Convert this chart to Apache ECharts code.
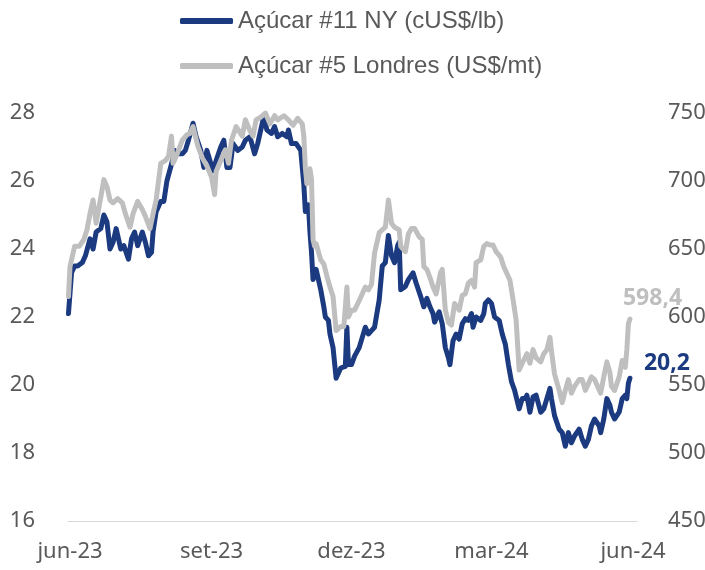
<!DOCTYPE html>
<html>
<head>
<meta charset="utf-8">
<script src="https://cdn.jsdelivr.net/npm/echarts@6/dist/echarts.min.js"></script>
<style>
  html, body { margin: 0; padding: 0; background: #fff; }
  #chart { width: 705px; height: 570px; }
</style>
</head>
<body>
<div id="chart"></div>
<script>
// dias contados a partir de 01/06/2023
const nyDays = [-1, 0, 1, 3, 5, 8, 10, 13, 15, 17, 20, 22, 24, 26, 28, 30, 33, 35, 38, 40, 42, 44, 47, 49, 51, 53, 54, 56, 59, 61, 63, 66, 68, 70, 73, 75, 77, 80, 82, 85, 87, 89, 91, 93, 95, 98, 100, 102, 104, 106, 109, 112, 114, 117, 120, 122, 126, 128, 131, 133, 135, 138, 141, 142, 144, 147, 150, 152, 153, 155, 156, 157, 158, 160, 163, 165, 166, 168, 169, 171, 173, 176, 179, 180, 181, 183, 185, 188, 190, 192, 194, 196, 198, 201, 203, 205, 207, 209, 211, 213, 214, 215, 218, 220, 223, 225, 228, 230, 232, 234, 236, 237, 240, 242, 244, 246, 247, 249, 251, 253, 255, 257, 259, 261, 262, 264, 267, 269, 270, 272, 274, 276, 279, 281, 283, 285, 287, 289, 292, 294, 296, 297, 299, 301, 303, 306, 308, 310, 312, 313, 315, 318, 320, 322, 324, 326, 328, 331, 333, 335, 337, 339, 341, 344, 345, 347, 349, 351, 352, 354, 357, 359, 361, 362, 363, 364];
const nyValues = [22.1, 22.7, 23.3, 23.5, 23.5, 23.6, 23.8, 24.3, 24.0, 24.5, 24.6, 25.0, 24.8, 24.0, 24.2, 24.6, 24.0, 24.1, 23.7, 24.3, 24.5, 24.1, 24.5, 24.2, 23.8, 23.9, 24.5, 25.1, 25.4, 25.4, 26.0, 26.5, 26.9, 26.8, 26.8, 26.9, 27.2, 27.7, 27.3, 26.9, 26.4, 26.9, 26.6, 26.3, 26.6, 27.0, 27.2, 26.4, 26.4, 27.1, 26.9, 27.0, 27.2, 27.3, 26.8, 27.1, 27.9, 27.5, 27.4, 27.6, 27.3, 27.4, 27.3, 27.5, 27.1, 27.1, 26.9, 25.9, 25.1, 25.3, 24.5, 23.9, 23.1, 23.4, 22.8, 22.3, 22.0, 21.9, 21.5, 21.1, 20.2, 20.5, 20.55, 21.7, 20.6, 20.6, 20.85, 21.1, 21.4, 21.7, 21.5, 21.6, 21.7, 22.5, 23.5, 23.6, 24.4, 23.8, 23.6, 24.1, 24.2, 22.8, 22.9, 23.1, 23.3, 23.0, 22.6, 22.3, 22.55, 22.3, 22.1, 21.85, 22.15, 21.8, 21.1, 20.8, 20.6, 21.3, 21.5, 21.35, 21.8, 21.95, 21.9, 22.1, 21.7, 22.0, 21.9, 22.1, 22.4, 22.5, 22.4, 22.0, 21.9, 21.5, 21.2, 20.6, 20.1, 19.85, 19.3, 19.6, 19.6, 19.7, 19.2, 19.65, 19.7, 19.2, 19.3, 19.6, 19.9, 19.6, 19.1, 18.7, 18.6, 18.2, 18.6, 18.3, 18.5, 18.7, 18.4, 18.2, 18.4, 18.8, 19.0, 18.8, 18.6, 19.0, 19.6, 19.4, 19.2, 19.0, 19.2, 19.6, 19.7, 19.6, 20.05, 20.2];

const ldnDays = [-1, 0, 3, 6, 9, 11, 13, 15, 17, 20, 22, 24, 26, 28, 31, 34, 36, 39, 41, 44, 47, 49, 52, 54, 56, 59, 62, 64, 66, 67, 69, 73, 76, 78, 80, 83, 86, 89, 92, 94, 95, 98, 101, 103, 105, 108, 112, 114, 117, 119, 121, 124, 127, 130, 133, 135, 139, 142, 145, 148, 151, 152, 153, 154, 156, 157, 158, 159, 160, 163, 165, 167, 169, 171, 173, 176, 178, 180, 181, 183, 185, 188, 190, 192, 194, 196, 198, 201, 203, 205, 207, 209, 211, 214, 215, 218, 220, 222, 224, 227, 229, 230, 232, 234, 236, 238, 241, 242, 244, 246, 248, 250, 253, 255, 257, 259, 261, 263, 264, 267, 269, 271, 273, 275, 277, 280, 282, 284, 286, 288, 290, 292, 294, 295, 297, 299, 301, 303, 306, 308, 310, 312, 313, 315, 318, 320, 322, 324, 326, 328, 331, 333, 335, 337, 339, 341, 345, 347, 349, 351, 352, 354, 357, 359, 361, 362, 363, 364];
const ldnValues = [615, 637, 652, 652, 657, 664, 676, 686, 669, 688, 701, 696, 686, 684, 687, 684, 676, 666, 676, 685, 679, 674, 665, 676, 686, 713, 715, 718, 733, 713, 718, 730, 734, 735, 740, 726, 717, 711, 703, 690, 707, 715, 723, 713, 730, 740, 733, 745, 737, 733, 745, 747, 750, 742, 748, 745, 748, 745, 741, 746, 742, 733, 710, 698, 709, 701, 657, 652, 654, 642, 639, 630, 622, 615, 590, 593, 593, 622, 600, 605, 605, 612, 617, 622, 620, 624, 647, 662, 664, 666, 686, 669, 666, 664, 652, 648, 661, 665, 665, 659, 657, 637, 635, 629, 622, 617, 633, 635, 605, 596, 594, 610, 605, 616, 617, 625, 627, 622, 640, 642, 652, 654, 653, 653, 648, 644, 637, 632, 627, 613, 598, 561, 566, 567, 573, 566, 576, 570, 567, 573, 576, 585, 575, 558, 546, 537, 546, 554, 544, 549, 554, 554, 546, 551, 556, 554, 544, 556, 567, 559, 549, 546, 556, 568, 563, 576, 595, 598.4];

// 01/06/23, 01/09/23, 01/12/23, 01/03/24, 01/06/24 em dias
const tickDays = [0, 92, 183, 274, 366];
const tickLabels = ['jun-23', 'set-23', 'dez-23', 'mar-24', 'jun-24'];

const navy = '#1B3A80';
const grey = '#BFBFBF';
const txt = '#595959';

const pairs = (days, vals) => days.map((d, i) => [d, vals[i]]);

const chart = echarts.init(document.getElementById('chart'));
chart.setOption({
    animation: false,
    legend: {
        orient: 'vertical',
        left: 180,
        top: 8,
        padding: 0,
        itemWidth: 53,
        itemHeight: 6,
        itemGap: 19,
        icon: 'roundRect',
        textStyle: { fontFamily: 'Liberation Sans', fontSize: 24, color: txt, lineHeight: 26 },
        data: ['Açúcar #11 NY (cUS$/lb)', 'Açúcar #5 Londres (US$/mt)']
    },
    grid: { left: 68, right: 68, top: 113, bottom: 49, outerBoundsMode: 'none', containLabel: false },
    xAxis: {
        type: 'value',
        min: -1.3,
        max: 368.6,
        axisLine: { show: true, lineStyle: { color: '#D9D9D9', width: 1 } },
        axisTick: { show: false },
        splitLine: { show: false },
        axisLabel: {
            customValues: tickDays,
            hideOverlap: false,
            margin: 20,
            fontFamily: 'Noto Sans',
            fontSize: 22,
            color: txt,
            formatter: v => tickLabels[tickDays.indexOf(v)] ?? ''
        }
    },
    yAxis: [
        {
            type: 'value', min: 16, max: 28, interval: 2,
            axisLine: { show: false }, axisTick: { show: false }, splitLine: { show: false },
            axisLabel: { margin: 33, fontFamily: 'Noto Sans', fontSize: 22, color: txt }
        },
        {
            type: 'value', min: 450, max: 750, interval: 50,
            axisLine: { show: false }, axisTick: { show: false }, splitLine: { show: false },
            axisLabel: { margin: 31, fontFamily: 'Noto Sans', fontSize: 22, color: txt }
        }
    ],
    series: [
        {
            name: 'Açúcar #11 NY (cUS$/lb)',
            type: 'line',
            yAxisIndex: 0,
            showSymbol: false,
            symbol: 'none',
            z: 2,
            data: pairs(nyDays, nyValues),
            itemStyle: { color: navy },
            lineStyle: { color: navy, width: 5, cap: 'round', join: 'round' },
            endLabel: {
                show: true,
                formatter: '20,2',
                color: navy,
                fontFamily: 'Noto Sans',
                fontWeight: 'bold',
                fontSize: 23,
                offset: [6, -15]
            }
        },
        {
            name: 'Açúcar #5 Londres (US$/mt)',
            type: 'line',
            yAxisIndex: 1,
            showSymbol: false,
            symbol: 'none',
            z: 3,
            data: pairs(ldnDays, ldnValues),
            itemStyle: { color: grey },
            lineStyle: { color: grey, width: 5, cap: 'round', join: 'round' },
            endLabel: {
                show: true,
                formatter: '598,4',
                color: grey,
                fontFamily: 'Noto Sans',
                fontWeight: 'bold',
                fontSize: 23,
                offset: [-15, -21]
            }
        }
    ]
});
</script>
</body>
</html>
